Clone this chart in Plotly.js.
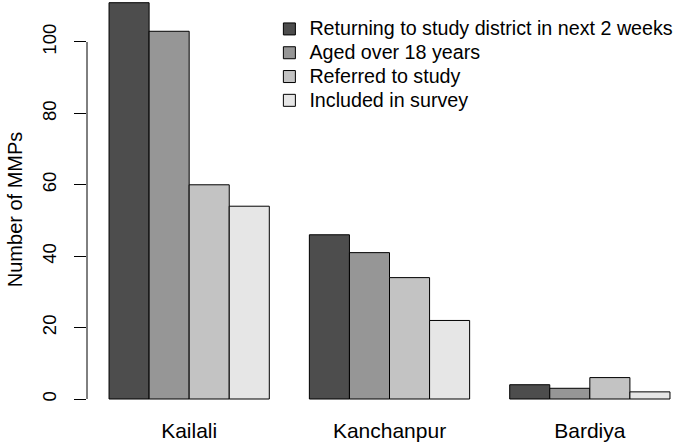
<!DOCTYPE html>
<html lang="en">
<head>
    <meta charset="UTF-8">
    <title>MMPs by district</title>
    <script src="https://cdn.plot.ly/plotly-3.0.1.min.js"></script>
    <style>
        html, body { margin: 0; padding: 0; background: white; }
        #chart { width: 685px; height: 444px; }
    </style>
</head>
<body>
    <div id="chart"></div>

    <script>
        // districts on the x axis
        const districts = ['Kailali', 'Kanchanpur', 'Bardiya'];

        // one series per stage
        const seriesNames = [
            'Returning to study district in next 2 weeks',
            'Aged over 18 years',
            'Referred to study',
            'Included in survey'
        ];
        const returning = [111, 46, 4];
        const agedOver18 = [103, 41, 3];
        const referred = [60, 34, 6];
        const included = [54, 22, 2];

        const greys = ['#4d4d4d', '#969696', '#c3c3c3', '#e6e6e6'];
        const font = 'Liberation Sans, Arial, sans-serif';

        // legend font is kept small so rows sit 24px apart; the span restores the text size
        const traces = [returning, agedOver18, referred, included].map((vals, i) => ({
            type: 'bar',
            name: '<span style="font-size:19.7px">' + seriesNames[i] + '</span>',
            x: districts,
            y: vals,
            marker: { color: greys[i], line: { color: '#000', width: 1 } },
            hoverinfo: 'x+y'
        }));

        const layout = {
            width: 685,
            height: 444,
            margin: { l: 87, r: 0, t: 0, b: 29 },
            paper_bgcolor: 'white',
            plot_bgcolor: 'white',
            font: { family: font, color: '#000', size: 19 },
            barmode: 'group',
            bargap: 0.2,
            bargroupgap: 0,
            showlegend: true,
            legend: {
                x: 0.305, xanchor: 'left',
                y: 0.971, yanchor: 'top',
                bgcolor: 'rgba(0,0,0,0)',
                font: { size: 16, color: '#000' },
                traceorder: 'normal'
            },
            xaxis: {
                type: 'category',
                range: [-0.51, 2.475],
                showline: false, showgrid: false, zeroline: false,
                ticks: '',
                tickfont: { size: 21 },
                ticklabelstandoff: 1
            },
            yaxis: {
                range: [-4.48, 111.76],
                tick0: 0, dtick: 20,
                showline: false, showgrid: false, zeroline: false,
                ticks: 'outside', ticklen: 12, tickwidth: 1, tickcolor: '#000',
                tickangle: -90,
                tickfont: { size: 18.5 },
                ticklabelstandoff: 11
            },
            annotations: [{
                text: 'Number of MMPs',
                xref: 'paper', yref: 'paper',
                x: -0.121, y: 0.495,
                xanchor: 'center', yanchor: 'middle',
                textangle: -90,
                showarrow: false,
                borderpad: 0,
                font: { size: 20, color: '#000' }
            }],
            shapes: [{
                type: 'line', xref: 'paper', yref: 'y',
                x0: 0, x1: 0, y0: 0, y1: 100,
                line: { color: '#000', width: 1 }
            }]
        };

        Plotly.newPlot('chart', traces, layout, { displayModeBar: false, staticPlot: true });
    </script>
</body>
</html>
